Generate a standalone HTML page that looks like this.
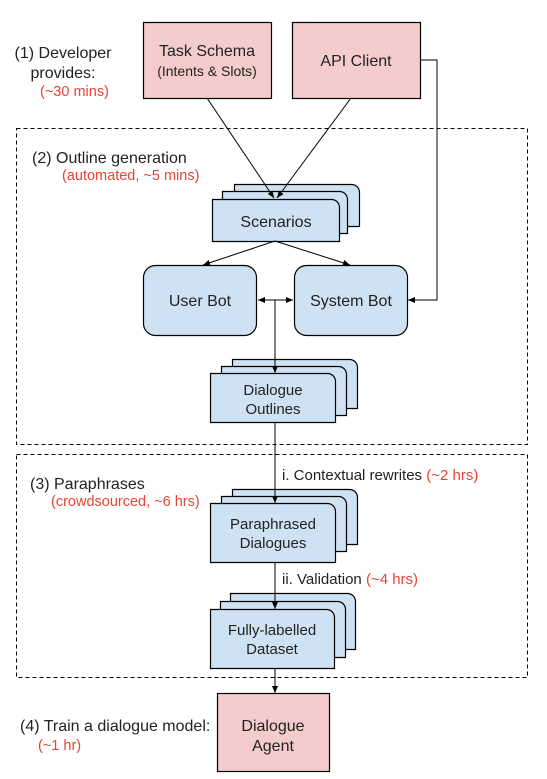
<!DOCTYPE html><html><head><style>body{margin:0;background:#fff}svg{display:block}text{font-family:"Liberation Sans",sans-serif}</style></head><body>
<svg width="547" height="779" viewBox="0 0 547 779" xmlns="http://www.w3.org/2000/svg">
<defs><marker id="a" markerWidth="8" markerHeight="8" refX="7" refY="4" orient="auto" markerUnits="userSpaceOnUse"><path d="M0,1 L7,4 L0,7z" fill="#000"/></marker>
<marker id="b" markerWidth="8" markerHeight="8" refX="1" refY="4" orient="auto" markerUnits="userSpaceOnUse"><path d="M8,1 L1,4 L8,7z" fill="#000"/></marker></defs>
<g fill="none" stroke="#000" stroke-dasharray="4,3" stroke-width="1"><rect x="16.5" y="128.5" width="511" height="316"/><rect x="16.5" y="454.5" width="511" height="223"/></g>
<g stroke="#000" stroke-width="1.2" fill="#f4cccc"><rect x="143.5" y="22.5" width="128" height="76"/><rect x="292.5" y="22.5" width="128" height="76"/><rect x="217.5" y="693.5" width="112" height="78"/></g>
<g fill="#cfe2f3" stroke="#000" stroke-width="1.2">
<path d="M234.5,184.5h117a8,8 0 0 1 8,8v34h-125z"/><path d="M222.5,191.5h117a8,8 0 0 1 8,8v34h-125z"/><path d="M212.5,199.5h119a8,8 0 0 1 8,8v34h-127z"/>
<path d="M232.5,359.5h117a8,8 0 0 1 8,8v41h-125z"/><path d="M221.5,366.5h117a8,8 0 0 1 8,8v41h-125z"/><path d="M210.5,373.5h117a8,8 0 0 1 8,8v41h-125z"/>
<path d="M232.5,489.5h117a8,8 0 0 1 8,8v47h-125z"/><path d="M221.5,496.5h117a8,8 0 0 1 8,8v47h-125z"/><path d="M210.5,503.5h117a8,8 0 0 1 8,8v51h-125z"/>
<path d="M230.5,593.5h117a8,8 0 0 1 8,8v48h-125z"/><path d="M220.5,601.5h117a8,8 0 0 1 8,8v48h-125z"/><path d="M210.5,609.5h116a8,8 0 0 1 8,8v51h-124z"/>
<rect x="143.5" y="265.5" width="113" height="70" rx="12"/><rect x="294.5" y="265.5" width="113" height="70" rx="12"/></g>
<g stroke="#000" stroke-width="1" fill="none">
<line x1="207" y1="98" x2="274" y2="198" marker-end="url(#a)"/><line x1="351" y1="98" x2="277" y2="198" marker-end="url(#a)"/>
<polyline points="420,60 437,60 437,300 408,300" marker-end="url(#a)"/>
<line x1="275" y1="241" x2="203" y2="265" marker-end="url(#a)"/><line x1="275" y1="241" x2="350" y2="265" marker-end="url(#a)"/>
<line x1="258" y1="300" x2="293" y2="300" marker-start="url(#b)" marker-end="url(#a)"/>
<line x1="275" y1="300" x2="275" y2="373" marker-end="url(#a)"/>
<line x1="275" y1="423" x2="275" y2="503" marker-end="url(#a)"/>
<line x1="275" y1="563" x2="275" y2="609" marker-end="url(#a)"/>
<line x1="275" y1="669" x2="275" y2="693" marker-end="url(#a)"/></g>
<g font-size="16" fill="#222" text-anchor="middle">
<text x="207" y="56">Task Schema</text><text x="207" y="76" font-size="14">(Intents &amp; Slots)</text>
<text x="356" y="66">API Client</text>
<text x="276" y="227">Scenarios</text>
<text x="200" y="306">User Bot</text><text x="351" y="306">System Bot</text>
<text x="273" y="395" font-size="15">Dialogue</text><text x="273" y="414" font-size="15">Outlines</text>
<text x="273" y="529" font-size="15">Paraphrased</text><text x="273" y="548" font-size="15">Dialogues</text>
<text x="272" y="635" font-size="15">Fully-labelled</text><text x="272" y="654" font-size="15">Dataset</text>
<text x="273" y="731">Dialogue</text><text x="273" y="751">Agent</text>
<text x="63" y="58">(1) Developer</text><text x="63" y="78">provides:</text></g>
<g font-size="14.5" fill="#ea4335"><text x="40" y="96">(~30 mins)</text><text x="62" y="180">(automated, ~5 mins)</text><text x="51" y="506">(crowdsourced, ~6 hrs)</text><text x="38" y="750">(~1 hr)</text></g>
<g font-size="16" fill="#222"><text x="32" y="163">(2) Outline generation</text><text x="30" y="489">(3) Paraphrases</text><text x="20" y="731">(4) Train a dialogue model:</text>
<text x="282" y="480" font-size="15">i. Contextual rewrites <tspan fill="#ea4335">(~2 hrs)</tspan></text>
<text x="282" y="584" font-size="15">ii. Validation <tspan fill="#ea4335">(~4 hrs)</tspan></text></g>
</svg></body></html>
